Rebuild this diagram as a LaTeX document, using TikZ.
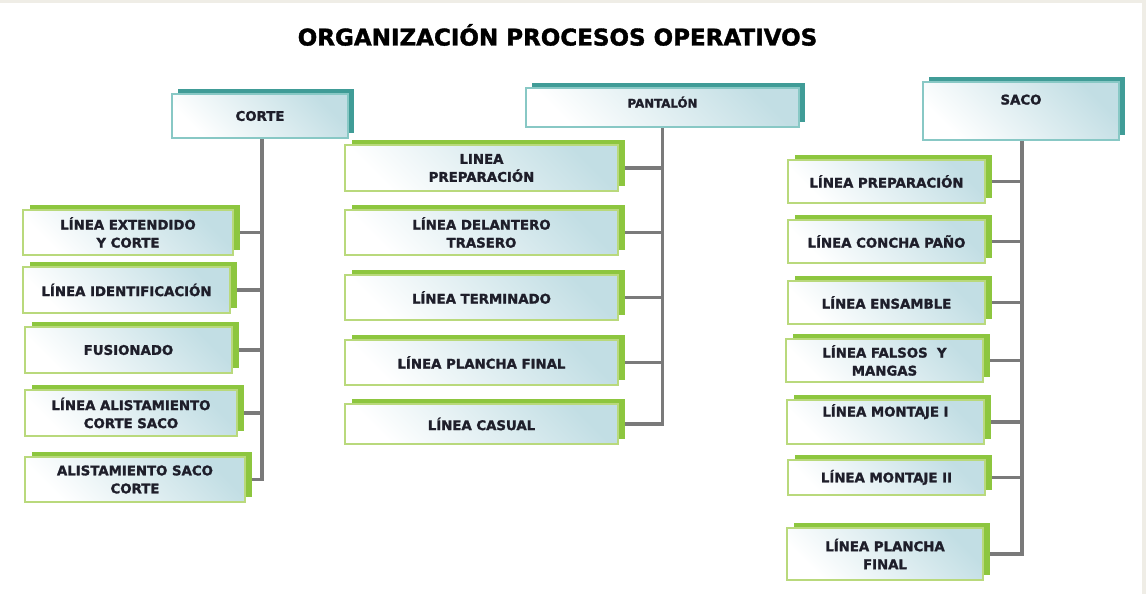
\documentclass[tikz,border=0pt]{standalone}
\usepackage{fontspec}
\setmainfont{DejaVu Sans}[BoldFeatures={FakeBold=1.6}]
\usetikzlibrary{shadows,backgrounds}
\definecolor{pageframe}{HTML}{EFEDE6}
\definecolor{lblue}{HTML}{C2DEE4}
\definecolor{gborder}{HTML}{B9D97C}
\definecolor{gshadow}{HTML}{8DC63F}
\definecolor{tborder}{HTML}{88C8C5}
\definecolor{tshadow}{HTML}{409C97}
\definecolor{lineg}{HTML}{7A7A7A}
\definecolor{txt}{HTML}{1E1E2A}
\tikzset{
  boxbase/.style={rectangle, inner sep=2pt, align=center,
    font=\bfseries\fontsize{13.3}{18}\selectfont, text=txt, line width=1.6pt,
    top color=lblue, bottom color=white, shading angle=-45},
  childbox/.style={boxbase, draw=gborder,
    general shadow={fill=gshadow, shadow xshift=6.5pt, shadow yshift=5.5pt}},
  headbox/.style={boxbase, draw=tborder,
    general shadow={fill=tshadow, shadow xshift=6pt, shadow yshift=5pt}},
  conn/.style={draw=lineg, line width=3.2pt},
  titletext/.style={font=\bfseries\fontsize{23}{27}\selectfont, text=black, inner sep=0pt}
}
\begin{document}
\begin{tikzpicture}[x=1pt, y=-1pt]
\path[use as bounding box] (0,0) rectangle (1146,594);

\node[titletext] (title) at (557.5,35) {ORGANIZACIÓN PROCESOS OPERATIVOS};

% headers
\node[headbox, minimum width=176pt, minimum height=44pt] (corte) at (260,116) {CORTE};
\node[headbox, minimum width=273pt, minimum height=39pt, text height=7pt, text depth=7pt,
      font=\bfseries\fontsize{11.8}{14}\selectfont] (pant) at (662.5,107.5) {PANTALÓN};
\node[headbox, minimum width=196pt, minimum height=58pt, text height=7pt, text depth=20pt] (saco) at (1021,111) {SACO};

% CORTE children
\node[childbox, minimum width=210pt, minimum height=45pt] (l1) at (128,232.5) {LÍNEA EXTENDIDO\\Y CORTE};
\node[childbox, minimum width=207pt, minimum height=46pt] (l2) at (126.5,290) {LÍNEA IDENTIFICACIÓN};
\node[childbox, minimum width=207pt, minimum height=46pt] (l3) at (128.5,350) {FUSIONADO};
\node[childbox, minimum width=212pt, minimum height=46pt] (l4) at (131,413) {LÍNEA ALISTAMIENTO\\CORTE SACO};
\node[childbox, minimum width=220pt, minimum height=45pt] (l5) at (135,479.5) {ALISTAMIENTO SACO\\CORTE};

% PANTALON children
\node[childbox, minimum width=273pt, minimum height=46pt] (m1) at (481.5,168) {LINEA\\PREPARACIÓN};
\node[childbox, minimum width=273pt, minimum height=45pt] (m2) at (481.5,232.5) {LÍNEA DELANTERO\\TRASERO};
\node[childbox, minimum width=273pt, minimum height=45pt] (m3) at (481.5,297.5) {LÍNEA TERMINADO};
\node[childbox, minimum width=273pt, minimum height=45pt] (m4) at (481.5,362.5) {LÍNEA PLANCHA FINAL};
\node[childbox, minimum width=273pt, minimum height=40pt] (m5) at (481.5,424) {LÍNEA CASUAL};

% SACO children
\node[childbox, minimum width=197pt, minimum height=43pt] (r1) at (886.5,181.5) {LÍNEA PREPARACIÓN};
\node[childbox, minimum width=197pt, minimum height=43pt] (r2) at (886.5,241.5) {LÍNEA CONCHA PAÑO};
\node[childbox, minimum width=197pt, minimum height=43pt] (r3) at (886.5,302.5) {LÍNEA ENSAMBLE};
\node[childbox, minimum width=197pt, minimum height=43pt] (r4) at (884.5,360.5) {LÍNEA FALSOS~~Y\\MANGAS};
\node[childbox, minimum width=197pt, minimum height=44pt, text height=7pt, text depth=18pt] (r5) at (885.5,422) {LÍNEA MONTAJE I};
\node[childbox, minimum width=197pt, minimum height=35pt] (r6) at (886.5,477.5) {LÍNEA MONTAJE II};
\node[childbox, minimum width=196pt, minimum height=52pt] (r7) at (885,554) {LÍNEA PLANCHA\\FINAL};

\begin{scope}[on background layer]
  \fill[pageframe] (0,0) rectangle (1146,594);
  \fill[white] (0,3.5) rectangle (1142,594);
  % CORTE
  \draw[conn] ([xshift=2pt]corte.south) |- (l5.east);
  \foreach \n in {l1,l2,l3,l4} \draw[conn] (\n.east) -- ([xshift=2pt]\n.east -| corte.south);
  % PANTALON
  \draw[conn] (pant.south) |- (m5.east);
  \foreach \n in {m1,m2,m3,m4} \draw[conn] (\n.east) -- (\n.east -| pant.south);
  % SACO
  \draw[conn] ([xshift=1pt]saco.south) |- (r7.east);
  \foreach \n in {r1,r2,r3,r4,r5,r6} \draw[conn] (\n.east) -- ([xshift=1pt]\n.east -| saco.south);
\end{scope}
\end{tikzpicture}
\end{document}
